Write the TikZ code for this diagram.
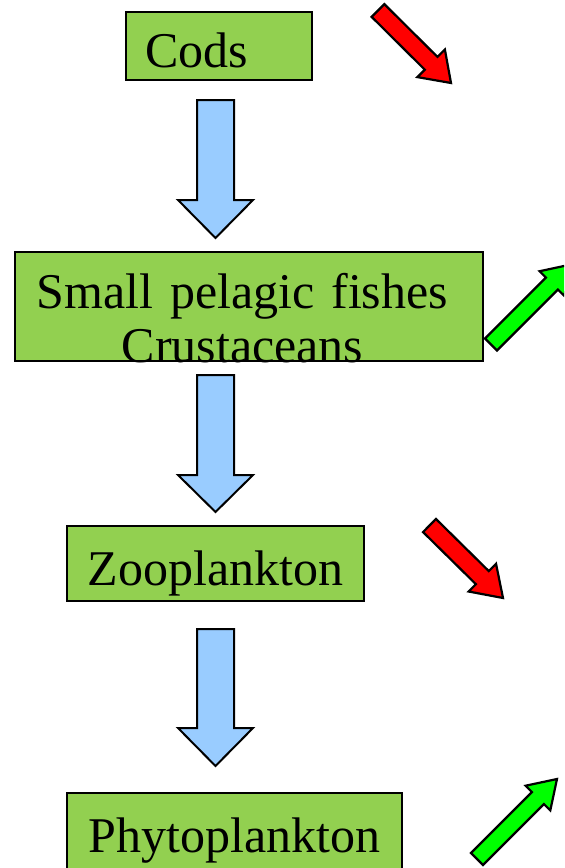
\documentclass[tikz,border=0pt]{standalone}
\usepackage{fontspec}
\setmainfont{Liberation Serif}
\usepackage{tikz}
\usetikzlibrary{calc}
\definecolor{boxGreen}{HTML}{92D050}
\definecolor{flowBlue}{HTML}{99CCFF}
\definecolor{downRed}{HTML}{FF0000}
\definecolor{upGreen}{HTML}{00FF00}
% block arrow: style, tail, tip, shaft half width, head half width, head length
\newcommand{\fatarrow}[6]{%
  \coordinate (hb) at ($(#3)!#6!(#2)$);
  \draw[#1] ($(#2)!#4!90:(#3)$) -- ($(hb)!#4!90:(#3)$) -- ($(hb)!#5!90:(#3)$)
    -- (#3) -- ($(hb)!#5!-90:(#3)$) -- ($(hb)!#4!-90:(#3)$) -- ($(#2)!#4!-90:(#3)$) -- cycle;
}

\begin{document}
\begin{tikzpicture}[
  x=0.5pt, y=-0.5pt,
  level/.style={draw=black, line width=1pt, fill=boxGreen, inner ysep=0pt,
                font=\fontsize{25}{27}\selectfont},
  flow/.style={draw=black, line width=1pt, fill=flowBlue, line join=miter},
  fall/.style={draw=black, line width=1.1pt, fill=downRed, line join=miter},
  rise/.style={draw=black, line width=1.1pt, fill=upGreen, line join=miter},
]
\clip (0,0) rectangle (564,868);

\node[level, text width=74pt, inner xsep=9.5pt, align=left, text height=27.5pt, text depth=6.5pt] (cods) at (219,46) {Cods};
\node[level, text width=234pt, inner xsep=0pt, align=center, text height=28pt, text depth=26.5pt] (pelagic) at (249,306.5) {Small pelagic fishes\kern6.5pt\\Crustaceans\kern6.5pt};
\node[level, text width=148.5pt, inner xsep=0pt, align=center, text height=29.5pt, text depth=8pt] (zoo) at (215.5,563.5) {Zooplankton};
\node[level, text width=167.5pt, inner xsep=0pt, align=center, text height=29.5pt, text depth=10pt] (phyto) at (234.5,832.5) {Phytoplankton};

% flow down the chain
\coordinate (f1s) at (215.5,100); \coordinate (f1e) at (215.5,238);
\coordinate (f2s) at (215.5,375); \coordinate (f2e) at (215.5,512);
\coordinate (f3s) at (215.5,629); \coordinate (f3e) at (215.5,766);
\fatarrow{flow}{f1s}{f1e}{9.25pt}{18.75pt}{19pt}
\fatarrow{flow}{f2s}{f2e}{9.25pt}{18.75pt}{18.5pt}
\fatarrow{flow}{f3s}{f3e}{9.25pt}{18.75pt}{19pt}

% trends
\coordinate (c1s) at (378,10.5);  \coordinate (c1e) at (451,83);
\coordinate (p1s) at (491,344.5); \coordinate (p1e) at (571,264.5);
\coordinate (z1s) at (429.5,525.5); \coordinate (z1e) at (503,598);
\coordinate (h1s) at (477,859);   \coordinate (h1e) at (557,779);
\fatarrow{fall}{c1s}{c1e}{4.5pt}{9.75pt}{14pt}
\fatarrow{rise}{p1s}{p1e}{4.25pt}{8.75pt}{13.5pt}
\fatarrow{fall}{z1s}{z1e}{4.6pt}{9.75pt}{14.5pt}
\fatarrow{rise}{h1s}{h1e}{4.25pt}{8.75pt}{13.5pt}
\end{tikzpicture}
\end{document}
